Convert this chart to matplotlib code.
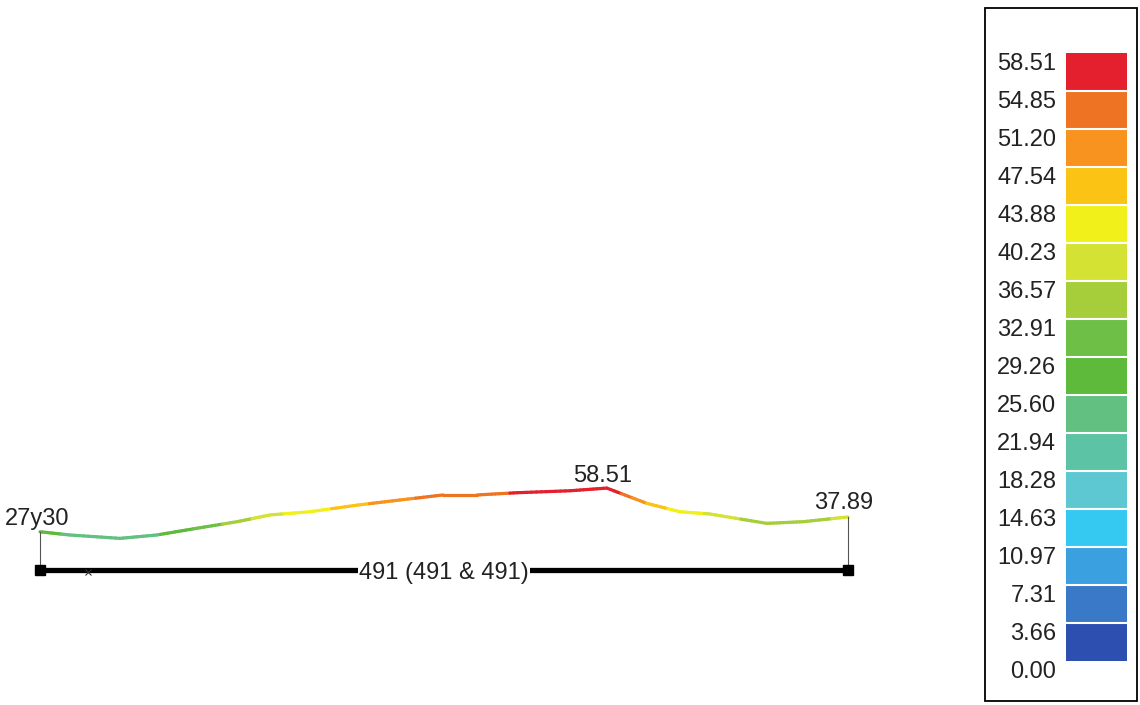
import numpy as np
import matplotlib
matplotlib.use("Agg")
import matplotlib.pyplot as plt
from matplotlib.colors import ListedColormap, BoundaryNorm
from matplotlib.collections import LineCollection
from matplotlib.cm import ScalarMappable
from matplotlib.patches import Rectangle

plt.rcParams['font.family'] = ['Liberation Sans', 'DejaVu Sans']

# positions along the member (m) and diagram values
positions = [0.0, 0.74, 1.98, 2.89, 3.88, 4.88, 5.69, 6.68, 7.87, 8.91, 9.98,
             10.82, 11.81, 13.12, 14.03, 15.02, 15.84, 16.58, 17.99, 18.89, 20.0]
values = [27.30, 25.0, 22.6, 25.0, 29.8, 34.5, 39.3, 41.6, 46.4, 50.0, 53.6,
          53.6, 55.2, 56.6, 58.51, 47.6, 41.6, 40.0, 33.3, 34.5, 37.89]

# value labels shown on the diagram
label_start = "27y30"
label_max = "58.51"
label_end = "37.89"
member_label = "491 (491 & 491)"
mark_pos = 1.19

# legend scale
legend_ticks = [0.00, 3.66, 7.31, 10.97, 14.63, 18.28, 21.94, 25.60, 29.26,
                32.91, 36.57, 40.23, 43.88, 47.54, 51.20, 54.85, 58.51]
legend_colors = ['#2c4fb0', '#3a78c8', '#3aa0e0', '#35c8f0', '#5ec8d2',
                 '#5cc4a4', '#62c081', '#5dba3a', '#6dbf45', '#a6ce3a',
                 '#d4e234', '#f2f01a', '#fbc314', '#f7931e', '#ee7424',
                 '#e5202e']

cmap = ListedColormap(legend_colors)
norm = BoundaryNorm(legend_ticks, cmap.N)
FS = 17

W, H = 1140, 705
fig = plt.figure(figsize=(W / 100, H / 100), dpi=100)
fig.patch.set_facecolor('white')

# main axes: 40.4 px per metre, 1.4 px per unit of value, beam at y=570 px
ax = fig.add_axes([0, 65 / H, 960 / W, 240 / H])
ax.set_xlim(-40 / 40.4, 920 / 40.4)
ax.set_ylim(-70 / 1.4, 170 / 1.4)
ax.axis('off')

span = positions[-1]

# colored diagram line (segments split finely for a smooth gradient)
xs = np.array(positions)
ys = np.array(values)
segs = []
cols = []
for i in range(len(xs) - 1):
    t = np.linspace(0, 1, 12)
    px = xs[i] + (xs[i + 1] - xs[i]) * t
    py = ys[i] + (ys[i + 1] - ys[i]) * t
    for j in range(len(t) - 1):
        segs.append([(px[j], py[j]), (px[j + 1], py[j + 1])])
        cols.append((py[j] + py[j + 1]) / 2)
lc = LineCollection(segs, cmap=cmap, norm=norm, linewidths=2.3,
                    capstyle='round', joinstyle='round')
lc.set_array(np.array(cols))
ax.add_collection(lc)

# end verticals
ax.plot([0, 0], [0, values[0]], color='#555555', lw=0.8)
ax.plot([span, span], [0, values[-1]], color='#555555', lw=0.8)

# member
ax.plot([0, span], [0, 0], color='black', lw=3.8, solid_capstyle='butt')
ax.plot([0, span], [0, 0], 's', color='black', markersize=7)
ax.plot([mark_pos], [-1.5], 'x', color='#333333', markersize=4, mew=0.8)
ax.text(span / 2, -1.8, member_label, ha='center', va='center', fontsize=FS,
        color='#222222',
        bbox=dict(facecolor='white', edgecolor='none', pad=0.5))

# value labels
imax = int(np.argmax(values))
ax.annotate(label_start, xy=(0, values[0]), xytext=(-2, 5),
            textcoords='offset points', ha='center', va='baseline',
            fontsize=FS, color='#222222')
ax.annotate(label_max, xy=(positions[imax], values[imax]), xytext=(-3, 4.5),
            textcoords='offset points', ha='center', va='baseline',
            fontsize=FS, color='#222222')
ax.annotate(label_end, xy=(span, values[-1]), xytext=(-3, 5.5),
            textcoords='offset points', ha='center', va='baseline',
            fontsize=FS, color='#222222')

# legend frame
fig.patches.append(Rectangle((985 / W, 4 / H), 152 / W, 693 / H,
                             transform=fig.transFigure, fill=False,
                             edgecolor='black', lw=1.3))

# legend colour bar
cax = fig.add_axes([1066 / W, (H - 661) / H, 61 / W, 608 / H])
sm = ScalarMappable(norm=norm, cmap=cmap)
cb = fig.colorbar(sm, cax=cax, ticks=legend_ticks, drawedges=True)
cb.outline.set_visible(False)
cb.dividers.set_color('white')
cb.dividers.set_linewidth(1.5)
cax.yaxis.set_ticks_position('left')
cax.tick_params(length=0, pad=7, labelsize=FS, labelcolor='#222222')
cax.set_yticklabels([f'{v:.2f}' for v in legend_ticks])
for lbl in cax.get_yticklabels():
    lbl.set_va('top')

fig.savefig('out.png', dpi=100, facecolor='white')
